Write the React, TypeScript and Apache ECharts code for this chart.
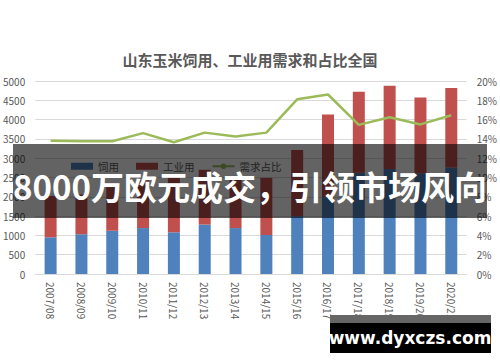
import React, { useEffect, useRef } from "react";
import * as echarts from "echarts";

const categories = [
  "2007/08", "2008/09", "2009/10", "2010/11", "2011/12", "2012/13", "2013/14",
  "2014/15", "2015/16", "2016/17", "2017/18", "2018/19", "2019/20", "2020/21",
];
const feedUse = [950, 1030, 1120, 1190, 1080, 1280, 1190, 1010, 1500, 1990, 2620, 2720, 2610, 2760];
const totalUse = [2020, 2060, 2250, 2420, 2560, 2700, 2480, 2490, 3210, 4130, 4720, 4880, 4570, 4820];
const industrialUse = totalUse.map((t, i) => t - feedUse[i]);
const sharePct = [13.8, 13.75, 13.75, 14.6, 13.65, 14.65, 14.25, 14.65, 18.1, 18.6, 15.45, 16.25, 15.5, 16.45];

const titleText = "山东玉米饲用、工业用需求和占比全国";
const seriesNames = ["饲用", "工业用", "需求占比"];
const bannerText = "8000万欧元成交，引领市场风向";
const watermarkText = "www.dyxczs.com";

const FONT = "'Noto Sans CJK SC', 'Noto Sans', sans-serif";

export default function App() {
  const ref = useRef<HTMLDivElement>(null);
  useEffect(() => {
    document.body.style.margin = "0";
    if (!ref.current) return;
    const chart = echarts.init(ref.current, null, { renderer: "svg" });
    chart.setOption({
      animation: false,
      backgroundColor: "#ffffff",
      textStyle: { fontFamily: FONT },
      title: {
        text: titleText,
        left: "center",
        top: 47,
        textStyle: { fontSize: 15, fontWeight: "bold", color: "#595959", fontFamily: FONT },
      },
      legend: {
        left: 66,
        top: 156,
        itemWidth: 22,
        itemHeight: 7,
        itemGap: 17,
        textStyle: { fontSize: 10.5, color: "#595959" },
        data: [
          { name: seriesNames[0], icon: "rect" },
          { name: seriesNames[1], icon: "rect" },
          { name: seriesNames[2] },
        ],
      },
      grid: { left: 33, right: 30, top: 81, bottom: 88 },
      xAxis: {
        type: "category",
        data: categories,
        axisTick: { show: false },
        axisLine: { lineStyle: { color: "#D9D9D9" } },
        axisLabel: { rotate: -90, fontSize: 10, color: "#595959", margin: 8, interval: 0 },
      },
      yAxis: [
        {
          type: "value",
          min: 0,
          max: 5000,
          interval: 500,
          axisLabel: {
            fontSize: 10,
            color: "#595959",
            margin: 10,
            formatter: (v: number) => String(v),
          },
          axisLine: { show: false },
          axisTick: { show: false },
          splitLine: { lineStyle: { color: "#D9D9D9" } },
        },
        {
          type: "value",
          min: 0,
          max: 20,
          interval: 2,
          axisLabel: { fontSize: 10, color: "#595959", margin: 10, formatter: "{value}%" },
          axisLine: { show: false },
          axisTick: { show: false },
          splitLine: { show: false },
        },
      ],
      series: [
        {
          name: seriesNames[0],
          type: "bar",
          stack: "use",
          barWidth: 12,
          data: feedUse,
          itemStyle: { color: "#4F81BD" },
        },
        {
          name: seriesNames[1],
          type: "bar",
          stack: "use",
          barWidth: 12,
          data: industrialUse,
          itemStyle: { color: "#C0504D" },
        },
        {
          name: seriesNames[2],
          type: "line",
          yAxisIndex: 1,
          data: sharePct,
          symbol: "none",
          lineStyle: { color: "#9BBB59", width: 2.5 },
          itemStyle: { color: "#9BBB59" },
        },
      ],
      graphic: [
        {
          type: "rect",
          z: 100,
          shape: { x: 13, y: 144, width: 474, height: 74 },
          style: { fill: "rgba(0,0,0,0.61)" },
        },
        {
          type: "text",
          z: 101,
          x: 250,
          y: 186,
          style: {
            text: bannerText,
            fill: "#ffffff",
            font: `bold 33px ${FONT}`,
            align: "center",
            verticalAlign: "middle",
          },
        },
        {
          type: "rect",
          z: 100,
          shape: { x: 330, y: 315, width: 161, height: 8 },
          style: { fill: "#666666" },
        },
        {
          type: "rect",
          z: 100,
          shape: { x: 330, y: 323, width: 161, height: 30 },
          style: { fill: "#000000" },
        },
        {
          type: "text",
          z: 101,
          x: 410,
          y: 338,
          style: {
            text: watermarkText,
            fill: "#ffffff",
            font: "bold 17px 'DejaVu Sans', sans-serif",
            align: "center",
            verticalAlign: "middle",
          },
        },
      ],
    });
    return () => chart.dispose();
  }, []);
  return <div ref={ref} style={{ width: 500, height: 362 }} />;
}
